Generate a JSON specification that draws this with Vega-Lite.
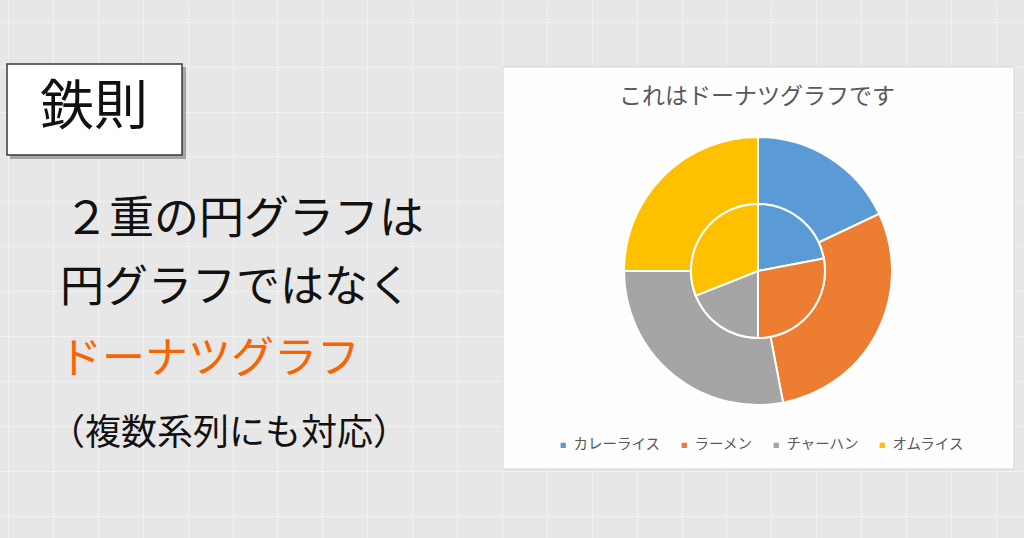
{
  "$schema": "https://vega.github.io/schema/vega-lite/v6.json",
  "width": 1024,
  "height": 538,
  "autosize": {"type": "fit", "contains": "padding"},
  "padding": 0,
  "background": "#e7e7e7",
  "config": {
    "view": {"stroke": null},
    "font": "Noto Sans CJK JP",
    "text": {"font": "Noto Sans CJK JP"}
  },
  "data": {
    "values": [
      {"ring": "外側", "item": "カレーライス", "no": 1, "value": 18},
      {"ring": "外側", "item": "ラーメン", "no": 2, "value": 29},
      {"ring": "外側", "item": "チャーハン", "no": 3, "value": 28},
      {"ring": "外側", "item": "オムライス", "no": 4, "value": 25},
      {"ring": "内側", "item": "カレーライス", "no": 1, "value": 22},
      {"ring": "内側", "item": "ラーメン", "no": 2, "value": 28},
      {"ring": "内側", "item": "チャーハン", "no": 3, "value": 19},
      {"ring": "内側", "item": "オムライス", "no": 4, "value": 31}
    ]
  },
  "layer": [
    {
      "data": {"values": [{}]},
      "mark": {"type": "rect", "fill": "#8f8f8f", "opacity": 0.75},
      "encoding": {
        "x": {
          "datum": 10, "type": "quantitative",
          "scale": {"domain": [0, 1024], "nice": false, "zero": false},
          "axis": {
            "values": [8, 52.9, 97.8, 142.7, 187.6, 232.5, 277.4, 322.3, 367.2, 412.1, 457, 501.9, 546.8, 591.7, 636.6, 681.5, 726.4, 771.3, 816.2, 861.1, 906, 950.9, 995.8],
            "grid": true, "gridColor": "#f1f1f1", "gridWidth": 1, "gridOpacity": 1,
            "labels": false, "ticks": false, "domain": false, "title": null
          }
        },
        "x2": {"datum": 186},
        "y": {
          "datum": 67, "type": "quantitative",
          "scale": {"domain": [0, 538], "nice": false, "zero": false, "reverse": true},
          "axis": {
            "values": [21.7, 66.6, 111.5, 156.4, 201.3, 246.2, 291.1, 336, 380.9, 425.8, 470.7, 515.6],
            "grid": true, "gridColor": "#f1f1f1", "gridWidth": 1, "gridOpacity": 1,
            "labels": false, "ticks": false, "domain": false, "title": null
          }
        },
        "y2": {"datum": 159}
      }
    },
    {
      "data": {"values": [{}]},
      "mark": {"type": "rect", "fill": "#ffffff", "stroke": "#3a3a3a", "strokeWidth": 1.5},
      "encoding": {
        "x": {"datum": 7, "type": "quantitative"},
        "x2": {"datum": 182},
        "y": {"datum": 64, "type": "quantitative"},
        "y2": {"datum": 155}
      }
    },
    {
      "data": {"values": [{"テキスト": "鉄則"}]},
      "mark": {"type": "text", "fontSize": 54, "color": "#111111", "align": "center", "baseline": "middle"},
      "encoding": {
        "x": {"datum": 94, "type": "quantitative"},
        "y": {"datum": 109, "type": "quantitative"},
        "text": {"field": "テキスト"}
      }
    },
    {
      "data": {"values": [{"テキスト": "２重の円グラフは"}]},
      "mark": {"type": "text", "fontSize": 45, "color": "#111111", "align": "left", "baseline": "middle"},
      "encoding": {
        "x": {"datum": 64, "type": "quantitative"},
        "y": {"datum": 220, "type": "quantitative"},
        "text": {"field": "テキスト"}
      }
    },
    {
      "data": {"values": [{"テキスト": "円グラフではなく"}]},
      "mark": {"type": "text", "fontSize": 44, "color": "#111111", "align": "left", "baseline": "middle"},
      "encoding": {
        "x": {"datum": 60, "type": "quantitative"},
        "y": {"datum": 289, "type": "quantitative"},
        "text": {"field": "テキスト"}
      }
    },
    {
      "data": {"values": [{"テキスト": "ドーナツグラフ"}]},
      "mark": {"type": "text", "fontSize": 43, "color": "#fa6400", "align": "left", "baseline": "middle"},
      "encoding": {
        "x": {"datum": 59, "type": "quantitative"},
        "y": {"datum": 360, "type": "quantitative"},
        "text": {"field": "テキスト"}
      }
    },
    {
      "data": {"values": [{"テキスト": "（複数系列にも対応）"}]},
      "mark": {"type": "text", "fontSize": 36, "color": "#111111", "align": "left", "baseline": "middle"},
      "encoding": {
        "x": {"datum": 49, "type": "quantitative"},
        "y": {"datum": 434, "type": "quantitative"},
        "text": {"field": "テキスト"}
      }
    },
    {
      "data": {"values": [{}]},
      "mark": {"type": "rect", "fill": "#fefefe", "stroke": "#d4d4d4", "strokeWidth": 1},
      "encoding": {
        "x": {"datum": 503, "type": "quantitative"},
        "x2": {"datum": 1014},
        "y": {"datum": 67, "type": "quantitative"},
        "y2": {"datum": 469}
      }
    },
    {
      "data": {"values": [{"テキスト": "これはドーナツグラフです"}]},
      "mark": {"type": "text", "fontSize": 23, "color": "#595959", "align": "center", "baseline": "middle"},
      "encoding": {
        "x": {"datum": 757, "type": "quantitative"},
        "y": {"datum": 97, "type": "quantitative"},
        "text": {"field": "テキスト"}
      }
    },
    {
      "transform": [{"filter": "datum.ring === '外側'"}],
      "mark": {"type": "arc", "radius": 134, "radius2": 67, "stroke": "#ffffff", "strokeWidth": 2},
      "encoding": {
        "x": {"datum": 758, "type": "quantitative"},
        "y": {"datum": 271, "type": "quantitative"},
        "theta": {"field": "value", "type": "quantitative", "stack": true},
        "order": {"field": "no", "type": "quantitative"},
        "color": {
          "field": "item", "type": "nominal",
          "scale": {"domain": ["カレーライス", "ラーメン", "チャーハン", "オムライス"], "range": ["#5b9bd5", "#ed7d31", "#a5a5a5", "#ffc000"]},
          "legend": {
            "orient": "none", "legendX": 556, "legendY": 438, "direction": "horizontal",
            "title": null, "symbolType": "square", "symbolSize": 28, "symbolStrokeWidth": 0,
            "labelFontSize": 14.5, "labelColor": "#595959", "labelFont": "Noto Sans CJK JP",
            "columnPadding": 16, "labelOffset": 3
          }
        }
      }
    },
    {
      "transform": [{"filter": "datum.ring === '内側'"}],
      "mark": {"type": "arc", "radius": 67, "radius2": 0, "stroke": "#ffffff", "strokeWidth": 2},
      "encoding": {
        "x": {"datum": 758, "type": "quantitative"},
        "y": {"datum": 271, "type": "quantitative"},
        "theta": {"field": "value", "type": "quantitative", "stack": true},
        "order": {"field": "no", "type": "quantitative"},
        "color": {"field": "item", "type": "nominal"}
      }
    }
  ]
}
